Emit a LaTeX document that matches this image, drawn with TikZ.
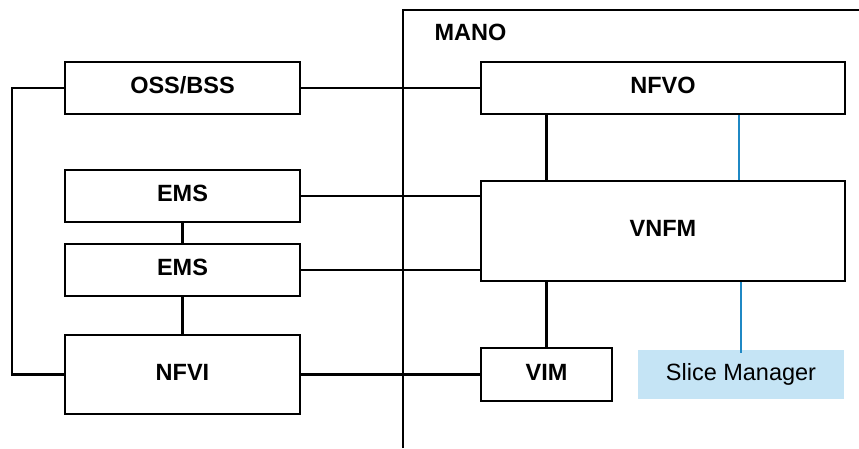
\documentclass[tikz,border=0pt]{standalone}
\usepackage{fontspec}
\setmainfont{Liberation Sans}
\definecolor{slicefill}{HTML}{C5E4F5}
\definecolor{bluelink}{HTML}{1F88C4}
\begin{document}
\begin{tikzpicture}[x=1pt,y=-1pt,
  box/.style={draw=black,line width=2.8pt,fill=white,inner sep=0pt,
    text height=17pt,text depth=6pt,
    font=\fontsize{23.5}{27}\selectfont\bfseries},
  link/.style={draw=black,line width=2.3pt},
  bluel/.style={draw=bluelink,line width=2.2pt},
  slicebox/.style={fill=slicefill,draw=none,inner sep=0pt,
    text height=17pt,text depth=6pt,
    minimum width=206pt,minimum height=49pt,font=\fontsize{23.5}{27}\selectfont}]
\useasboundingbox (0,0) rectangle (859,448);
% MANO frame
\coordinate (manotl) at (403,10);
\coordinate (manotr) at (859,10);
\coordinate (manobl) at (403,448);
\draw[line width=2.5pt] (manobl) -- (manotl) -- (manotr);
\node[anchor=west,font=\fontsize{23.5}{27}\selectfont\bfseries] (mano) at (431,32) {MANO};
% left boxes
\node[box,minimum width=235pt,minimum height=52pt] (oss) at (182.5,88) {OSS/BSS};
\node[box,minimum width=235pt,minimum height=52pt] (ems1) at (182.5,196) {EMS};
\node[box,minimum width=235pt,minimum height=52pt] (ems2) at (182.5,270) {EMS};
\node[box,minimum width=235pt,minimum height=79pt] (nfvi) at (182.5,374.5) {NFVI};
% right boxes
\node[box,minimum width=364pt,minimum height=52pt] (nfvo) at (663,88) {NFVO};
\node[box,minimum width=364pt,minimum height=100pt] (vnfm) at (663,231) {VNFM};
\node[box,minimum width=131pt,minimum height=53pt] (vim) at (546.5,374.5) {VIM};
\node[slicebox] (slice) at (741,374.5) {Slice Manager};
% connectors
\coordinate (leftbus) at (12,88);
\draw[link] (oss.west) -- (leftbus) |- (nfvi.west);
\draw[link] (oss.east) -- (nfvo.west);
\draw[link] (ems1.east) -- (vnfm.west |- ems1.east);
\draw[link] (ems2.east) -- (vnfm.west |- ems2.east);
\draw[link] (nfvi.east) -- (vim.west);
\draw[link] (ems1.south) -- (ems2.north);
\draw[link] (ems2.south) -- (nfvi.north);
\draw[link] (nfvo.south -| vim.north) -- (vnfm.north -| vim.north);
\draw[link] (vnfm.south -| vim.north) -- (vim.north);
\draw[bluel] ([xshift=-2pt]nfvo.south -| slice.north) -- ([xshift=-2pt]vnfm.north -| slice.north);
\draw[bluel] (vnfm.south -| slice.north) -- ([yshift=-3pt]slice.north);
\end{tikzpicture}
\end{document}
